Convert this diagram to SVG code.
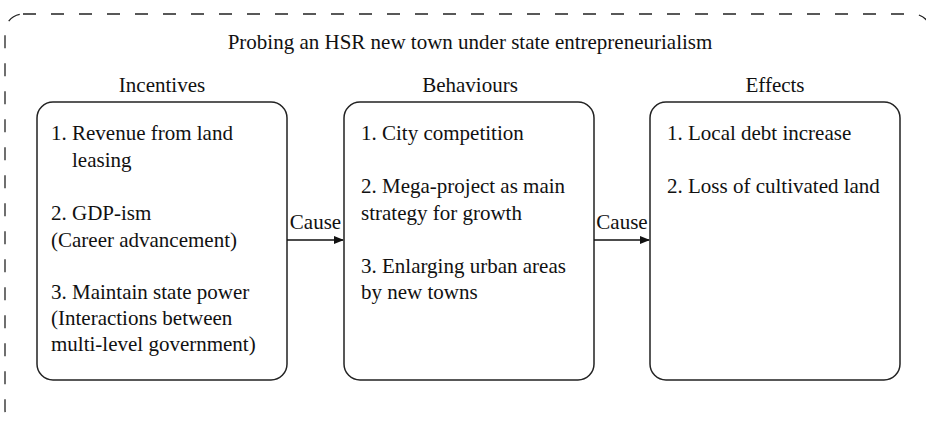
<svg xmlns="http://www.w3.org/2000/svg" width="926" height="423" viewBox="0 0 926 423">
<defs>
<style>
text{font-family:"Liberation Serif","Times New Roman",serif;font-size:21px;fill:#111}
.box{fill:#fff;stroke:#222;stroke-width:1.5}
.frame{fill:none;stroke:#222;stroke-width:1.3;stroke-dasharray:13 15}
.conn{stroke:#111;stroke-width:1.3;fill:none}
</style>
<marker id="ah" markerWidth="10" markerHeight="8" refX="9" refY="4" orient="auto" markerUnits="userSpaceOnUse">
<path d="M0,0 L10,4 L0,8 Z" fill="#111"/>
</marker>
</defs>
<rect width="926" height="423" fill="#fff"/>
<g id="frame">
<rect class="frame" x="5" y="14" width="926" height="414" rx="18"/>
<text x="470" y="49" text-anchor="middle">Probing an HSR new town under state entrepreneurialism</text>
</g>
<g id="incentives">
<text x="162" y="92" text-anchor="middle">Incentives</text>
<rect class="box" x="37" y="102" width="250" height="278" rx="16"/>
<text x="51" y="140">1. Revenue from land</text>
<text x="72" y="167">leasing</text>
<text x="51" y="220">2. GDP-ism</text>
<text x="51" y="247">(Career advancement)</text>
<text x="51" y="299">3. Maintain state power</text>
<text x="51" y="325">(Interactions between</text>
<text x="51" y="351">multi-level government)</text>
</g>
<g id="behaviours">
<text x="470" y="92" text-anchor="middle">Behaviours</text>
<rect class="box" x="344" y="102" width="250" height="278" rx="16"/>
<text x="361" y="140">1. City competition</text>
<text x="361" y="193">2. Mega-project as main</text>
<text x="361" y="220">strategy for growth</text>
<text x="361" y="273">3. Enlarging urban areas</text>
<text x="361" y="299">by new towns</text>
</g>
<g id="effects">
<text x="775" y="92" text-anchor="middle">Effects</text>
<rect class="box" x="650" y="102" width="250" height="278" rx="16"/>
<text x="667" y="140">1. Local debt increase</text>
<text x="667" y="193">2. Loss of cultivated land</text>
</g>
<g id="connectors">
<line class="conn" x1="287" y1="240" x2="343" y2="240" marker-end="url(#ah)"/>
<text x="315.5" y="229" text-anchor="middle">Cause</text>
<line class="conn" x1="594" y1="240" x2="649" y2="240" marker-end="url(#ah)"/>
<text x="622" y="229" text-anchor="middle">Cause</text>
</g>
</svg>
